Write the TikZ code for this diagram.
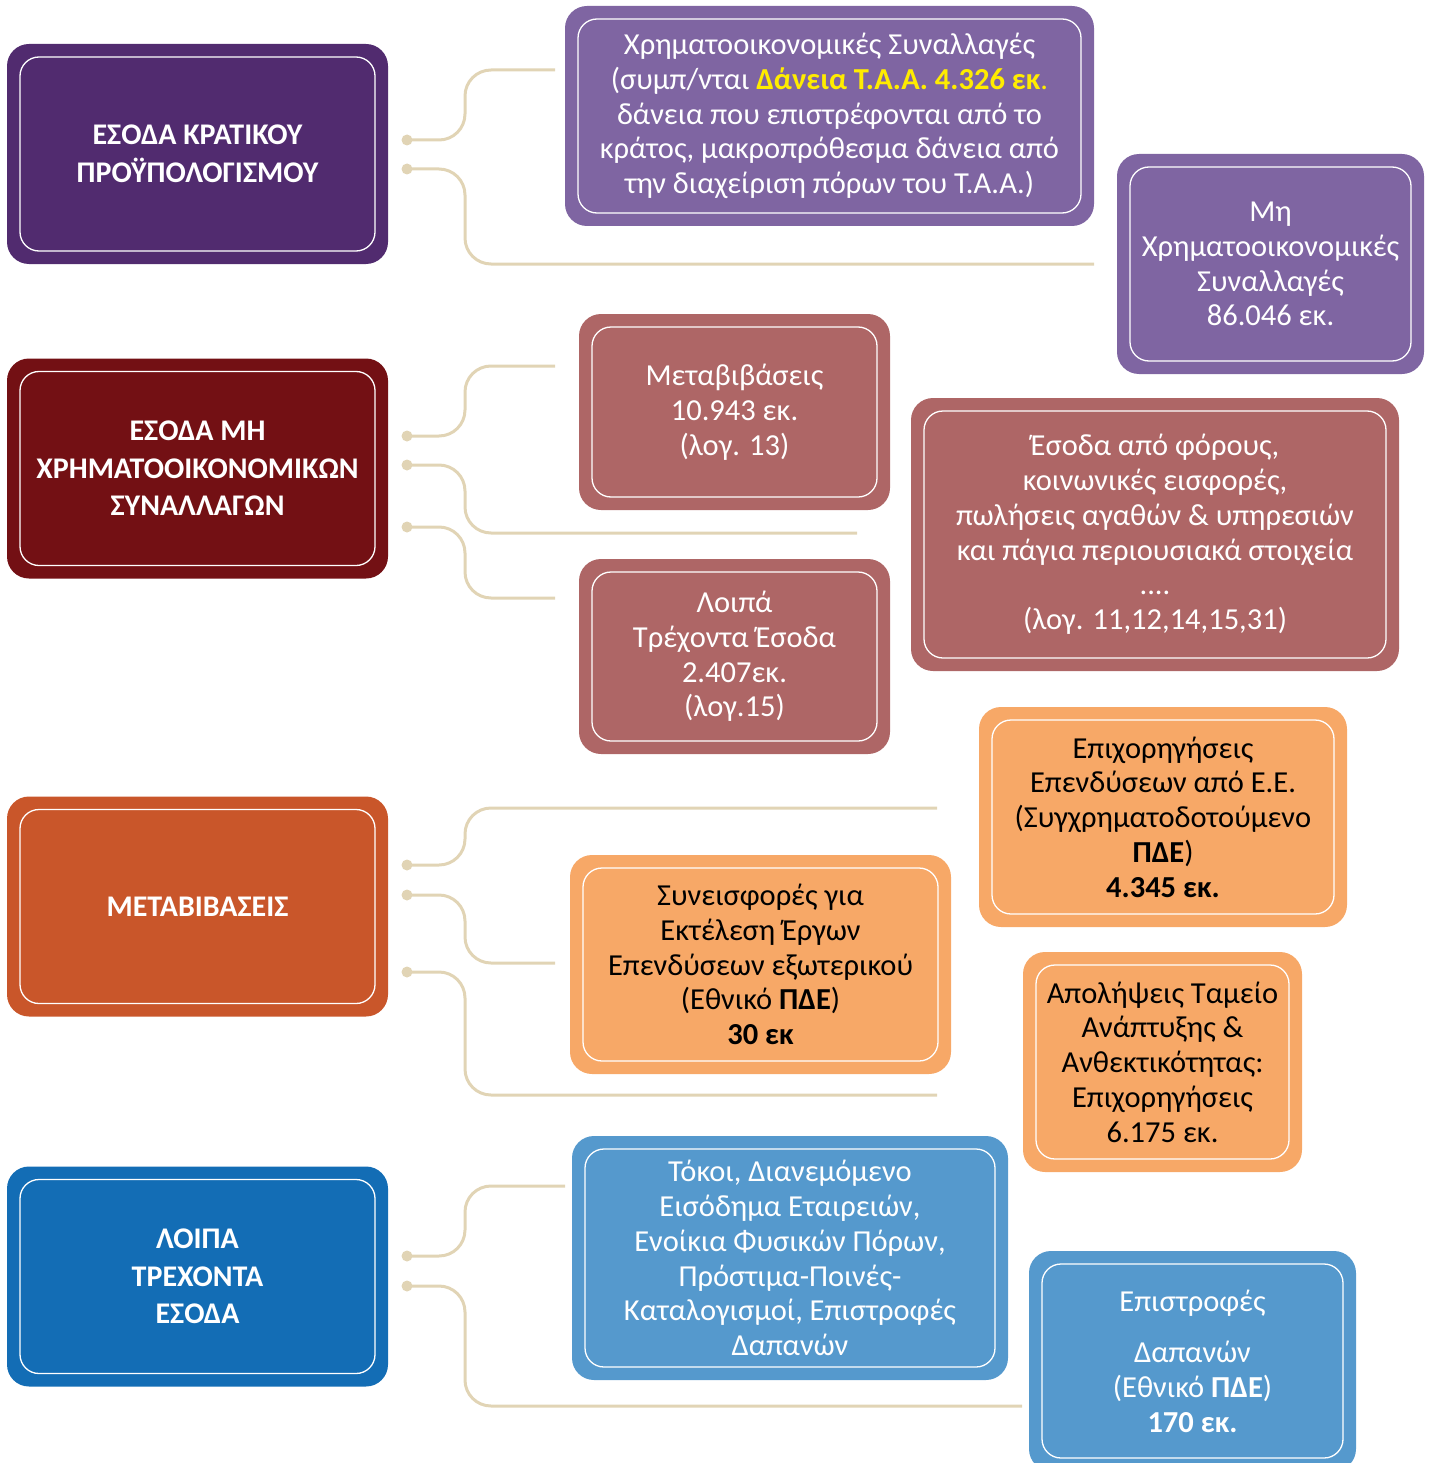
\documentclass[tikz,border=0pt]{standalone}
\usepackage{fontspec}
\setmainfont{Carlito}
\usetikzlibrary{positioning}

\definecolor{budget}{HTML}{512B6F}
\definecolor{lilac}{HTML}{7F65A2}
\definecolor{wine}{HTML}{731014}
\definecolor{rose}{HTML}{AE6666}
\definecolor{rust}{HTML}{C9562A}
\definecolor{apricot}{HTML}{F7A867}
\definecolor{navy}{HTML}{136DB5}
\definecolor{sky}{HTML}{5599CD}
\definecolor{sand}{HTML}{E1D4B5}
\definecolor{loanyellow}{HTML}{FFEC00}

\begin{document}
\begin{tikzpicture}[
    x=1pt, y=-1pt,
    box/.style={rectangle, fill=#1, rounded corners=22pt, inner sep=0pt,
                text=white, align=center,
                font=\fontsize{30.5}{34.75}\selectfont,
                path picture={\draw[white, line width=1.3pt, rounded corners=19pt]
                  ([shift={(13pt,-13pt)}]path picture bounding box.north west) rectangle
                  ([shift={(-13pt,13pt)}]path picture bounding box.south east);}},
    head/.style={box=#1, minimum width=381pt, minimum height=220pt,
                 font=\fontsize{30}{37.5}\selectfont\bfseries},
    dark/.style={text=black},
    dot/.style={circle, fill=sand, minimum size=11pt, inner sep=0pt},
    link/.style={draw=sand, line width=3pt, rounded corners=26pt}
]
  \useasboundingbox (0,0) rectangle (1430,1463);
  \clip (0,0) rectangle (1430,1463);

  % Main categories
  \node[head=budget] (state) at (197.5,154) {ΕΣΟΔΑ ΚΡΑΤΙΚΟΥ\\ΠΡΟΫΠΟΛΟΓΙΣΜΟΥ};
  \node[head=wine] (nonfin) at (197.5,468.5) {ΕΣΟΔΑ ΜΗ\\ΧΡΗΜΑΤΟΟΙΚΟΝΟΜΙΚΩΝ\\ΣΥΝΑΛΛΑΓΩΝ};
  \node[head=rust] (transfers) at (197.5,906.5) {ΜΕΤΑΒΙΒΑΣΕΙΣ};
  \node[head=navy] (other) at (197.5,1276.5) {ΛΟΙΠΑ\\ΤΡΕΧΟΝΤΑ\\ΕΣΟΔΑ};

  % State budget items
  \node[box=lilac, minimum width=529pt, minimum height=220pt] (fintx) at (829.5,116)
    {Χρηματοοικονομικές Συναλλαγές\\
     (συμπ/νται {\bfseries\color{loanyellow}Δάνεια Τ.Α.Α. 4.326 εκ}{\color{loanyellow}.}\\
     δάνεια που επιστρέφονται από το\\
     κράτος, μακροπρόθεσμα δάνεια από\\
     την διαχείριση πόρων του Τ.Α.Α.)};
  \node[box=lilac, minimum width=307pt, minimum height=220pt] (nonfintx) at (1270.5,264)
    {Μη\\Χρηματοοικονομικές\\Συναλλαγές\\86.046 εκ.};

  % Non-financial items
  \node[box=rose, minimum width=311pt, minimum height=196pt] (transfer) at (734.5,412)
    {Μεταβιβάσεις\\10.943 εκ.\\(λογ. 13)};
  \node[box=rose, minimum width=311pt, minimum height=195pt] (othercur) at (734.5,656.5)
    {Λοιπά\\Τρέχοντα Έσοδα\\2.407εκ.\\(λογ.15)};
  \node[box=rose, minimum width=488pt, minimum height=273pt] (taxes) at (1155,534.5)
    {Έσοδα από φόρους,\\κοινωνικές εισφορές,\\πωλήσεις αγαθών \& υπηρεσιών\\
     και πάγια περιουσιακά στοιχεία\\....\\(λογ. 11,12,14,15,31)};

  % Transfer items
  \node[box=apricot, dark, minimum width=368pt, minimum height=220pt] (eugrant) at (1163,817)
    {Επιχορηγήσεις\\Επενδύσεων από Ε.Ε.\\(Συγχρηματοδοτούμενο\\\textbf{ΠΔΕ})\\\textbf{4.345 εκ.}};
  \node[box=apricot, dark, minimum width=381pt, minimum height=219pt] (abroad) at (760.5,964.5)
    {Συνεισφορές για\\Εκτέλεση Έργων\\Επενδύσεων εξωτερικού\\(Εθνικό \textbf{ΠΔΕ})\\\textbf{30 εκ}};
  \node[box=apricot, dark, minimum width=279pt, minimum height=220pt] (rrf) at (1162.5,1062)
    {Απολήψεις Ταμείο\\Ανάπτυξης \&\\Ανθεκτικότητας:\\Επιχορηγήσεις\\6.175 εκ.};

  % Other current revenue items
  \node[box=sky, minimum width=436pt, minimum height=244pt] (interest) at (790,1258)
    {Τόκοι, Διανεμόμενο\\Εισόδημα Εταιρειών,\\Ενοίκια Φυσικών Πόρων,\\
     Πρόστιμα-Ποινές-\\Καταλογισμοί, Επιστροφές\\Δαπανών};
  \node[box=sky, minimum width=327pt, minimum height=220pt] (refunds) at (1192.5,1361)
    {Επιστροφές\\[17pt]Δαπανών\\(Εθνικό \textbf{ΠΔΕ})\\\textbf{170 εκ.}};

  % Connector ends
  \coordinate (t1a) at (555,70);
  \coordinate (t1b) at (1094,264);
  \coordinate (t2a) at (555,366);
  \coordinate (t2b) at (857,533);
  \coordinate (t2c) at (555,598);
  \coordinate (t3a) at (937,808);
  \coordinate (t3b) at (555,963);
  \coordinate (t3c) at (937,1095);
  \coordinate (t4a) at (565,1186);
  \coordinate (t4b) at (1022,1406);

  % Dots
  \node[dot] (d1a) at (407,140) {};
  \node[dot] (d1b) at (407,169) {};
  \node[dot] (d2a) at (407,436) {};
  \node[dot] (d2b) at (407,465) {};
  \node[dot] (d2c) at (407,527) {};
  \node[dot] (d3a) at (407,865) {};
  \node[dot] (d3b) at (407,895) {};
  \node[dot] (d3c) at (407,972) {};
  \node[dot] (d4a) at (407,1256) {};
  \node[dot] (d4b) at (407,1286) {};

  % Connectors
  \draw[link] (d1a.center) -- ++(58,0) |- (t1a);
  \draw[link] (d1b.center) -- ++(58,0) |- (t1b);
  \draw[link] (d2a.center) -- ++(58,0) |- (t2a);
  \draw[link] (d2b.center) -- ++(58,0) |- (t2b);
  \draw[link] (d2c.center) -- ++(58,0) |- (t2c);
  \draw[link] (d3a.center) -- ++(58,0) |- (t3a);
  \draw[link] (d3b.center) -- ++(58,0) |- (t3b);
  \draw[link] (d3c.center) -- ++(58,0) |- (t3c);
  \draw[link] (d4a.center) -- ++(58,0) |- (t4a);
  \draw[link] (d4b.center) -- ++(58,0) |- (t4b);
\end{tikzpicture}
\end{document}
